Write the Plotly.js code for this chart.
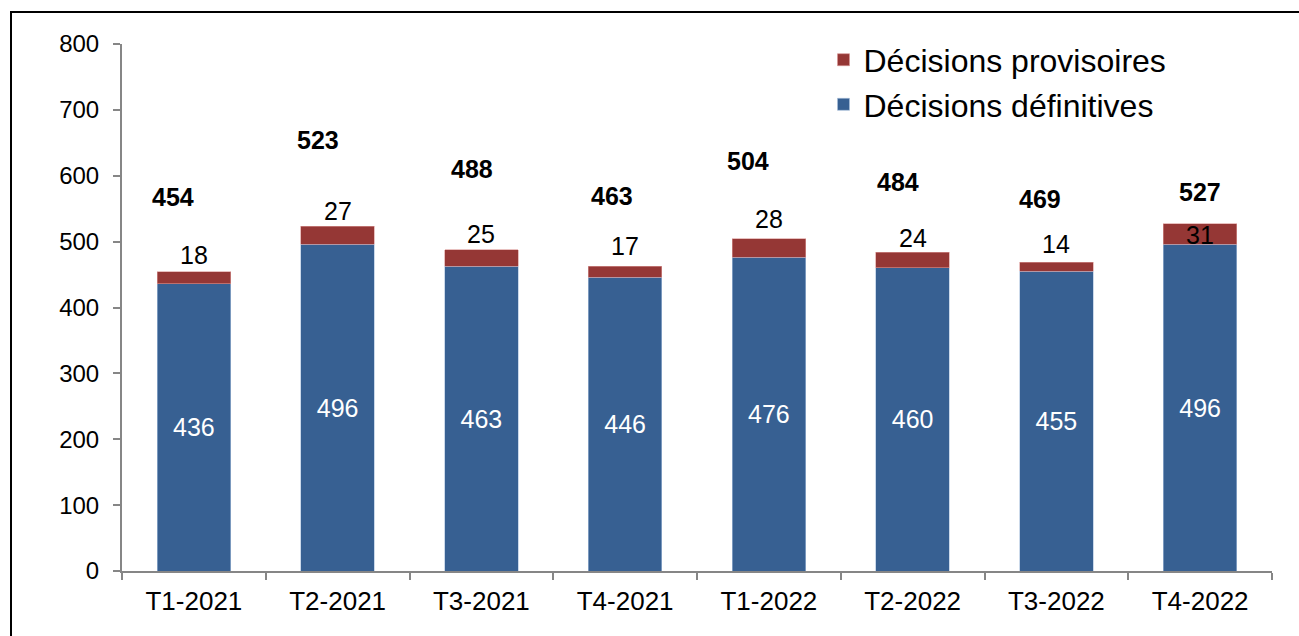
<!DOCTYPE html>
<html>
<head>
<meta charset="utf-8">
<script src="https://cdn.plot.ly/plotly-3.0.1.min.js"></script>
<style>
  html, body { margin: 0; padding: 0; background: #fff; }
  #chart { width: 1299px; height: 636px; position: relative; }
  #frame { position: absolute; left: 10px; top: 11px; width: 1400px; height: 700px;
           border-left: 2px solid #000; border-top: 2px solid #000; pointer-events: none; }
</style>
</head>
<body>
<div id="chart"></div>
<div id="frame"></div>
<script>
// ---- data ----
const categories = ['T1-2021', 'T2-2021', 'T3-2021', 'T4-2021', 'T1-2022', 'T2-2022', 'T3-2022', 'T4-2022'];
const definitives = [436, 496, 463, 446, 476, 460, 455, 496];
const provisoires = [18, 27, 25, 17, 28, 24, 14, 31];
const totals = [454, 523, 488, 463, 504, 484, 469, 527];

// ---- label placement (as in the original) ----
const totalLabelY = [567, 654, 611, 569, 623, 590, 565, 575];
const totalLabelShift = [-21, -20, -9, -13, -21, -15, -16, 0];
const provLabelY = [479, 547, 512, 493, 534, 505, 496, 510];

const FONT = 'Liberation Sans, Arial, sans-serif';

const traces = [
  {
    type: 'bar', name: 'Décisions définitives',
    x: categories, y: definitives,
    marker: { color: '#376092', line: { color: '#a9bfdc', width: 0.6 } },
    text: definitives.map(String),
    textposition: 'inside', insidetextanchor: 'middle',
    textfont: { color: '#ffffff', size: 25, family: FONT },
    hoverinfo: 'x+y'
  },
  {
    type: 'bar', name: 'Décisions provisoires',
    x: categories, y: provisoires,
    marker: { color: '#953735', line: { color: '#d99694', width: 0.6 } },
    textposition: 'none',
    hoverinfo: 'x+y'
  }
];

const annotations = [];
categories.forEach((c, i) => {
  annotations.push({
    x: c, y: provLabelY[i], xref: 'x', yref: 'y',
    text: String(provisoires[i]), showarrow: false,
    font: { size: 25, color: '#000', family: FONT }
  });
  annotations.push({
    x: c, y: totalLabelY[i], xref: 'x', yref: 'y', xshift: totalLabelShift[i],
    text: '<b>' + totals[i] + '</b>', showarrow: false,
    font: { size: 25, color: '#000', family: FONT }
  });
});

const layout = {
  width: 1299, height: 636,
  margin: { l: 122, r: 27, t: 44, b: 65 },
  paper_bgcolor: '#fff', plot_bgcolor: '#fff',
  barmode: 'stack', bargap: 0.49,
  font: { family: FONT, color: '#000' },
  showlegend: true,
  legend: {
    x: 0.61, y: 1.022, xanchor: 'left', yanchor: 'top',
    traceorder: 'reversed',
    font: { size: 32, family: FONT, color: '#000' },
    bgcolor: 'rgba(0,0,0,0)', itemwidth: 30
  },
  xaxis: {
    type: 'category',
    showline: true, linecolor: '#868686', linewidth: 2,
    ticks: 'outside', tickson: 'boundaries', ticklen: 7, tickcolor: '#868686', tickwidth: 2,
    tickfont: { size: 26, family: FONT, color: '#000' },
    ticklabelstandoff: 6,
    showgrid: false, zeroline: false
  },
  yaxis: {
    range: [0, 800], dtick: 100,
    showline: true, linecolor: '#868686', linewidth: 2,
    ticks: 'outside', ticklen: 7, tickcolor: '#868686', tickwidth: 2,
    tickfont: { size: 24, family: FONT, color: '#000' },
    ticklabelstandoff: 9,
    showgrid: false, zeroline: false
  },
  annotations: annotations
};

Plotly.newPlot('chart', traces, layout, { displayModeBar: false, staticPlot: true });
</script>
</body>
</html>
